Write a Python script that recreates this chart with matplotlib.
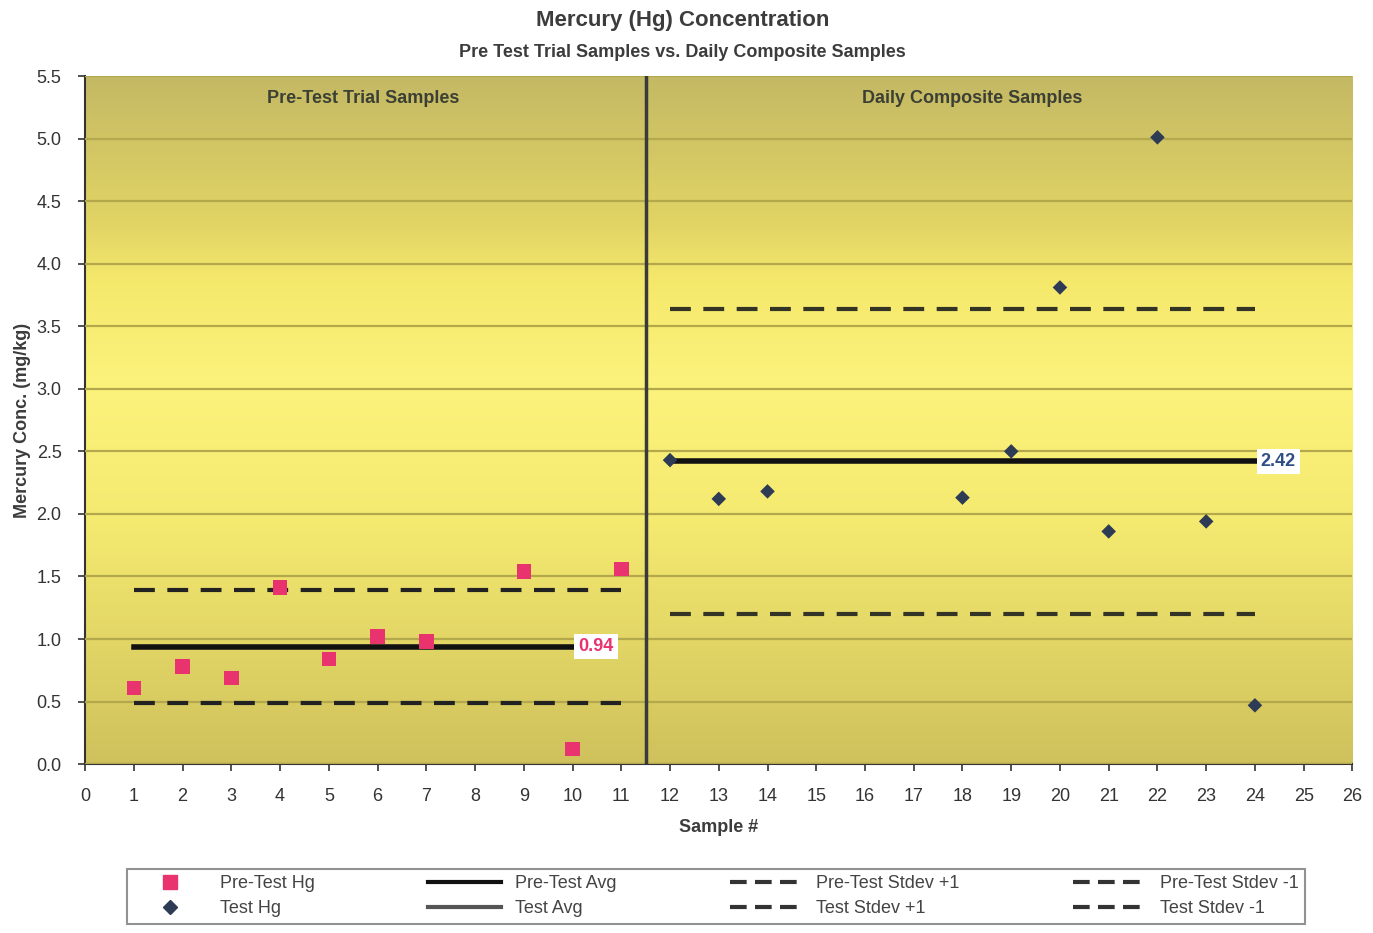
import numpy as np
import matplotlib.pyplot as plt
from matplotlib.colors import LinearSegmentedColormap
from matplotlib.lines import Line2D

plt.rcParams['font.family'] = ['Liberation Sans', 'DejaVu Sans']

# pre-test trial samples
pre_x = [1, 2, 3, 4, 5, 6, 7, 9, 10, 11]
pre_hg = [0.61, 0.78, 0.69, 1.41, 0.84, 1.02, 0.98, 1.54, 0.12, 1.56]
pre_avg = 0.94
pre_sd = 0.45

# daily composite samples
test_x = [12, 13, 14, 18, 19, 20, 21, 22, 23, 24]
test_hg = [2.43, 2.12, 2.18, 2.13, 2.50, 3.81, 1.86, 5.01, 1.94, 0.47]
test_avg = 2.42
test_sd = 1.22

fig = plt.figure(figsize=(13.73, 9.33), dpi=100)
ax = fig.add_axes([0.062, 0.181, 0.923, 0.7375])
ax.set_xlim(0, 26)
ax.set_ylim(0, 5.5)

# olive -> yellow -> olive background
bg = LinearSegmentedColormap.from_list(
    'bg', [(0.0, '#cfc15c'), (0.35, '#f5ea70'), (0.55, '#fcf37c'),
           (0.70, '#f5e96c'), (0.78, '#e2d565'), (1.0, '#c4b964')])
grad = np.linspace(0, 1, 256).reshape(-1, 1)
ax.imshow(grad, cmap=bg, origin='lower', extent=(0, 26, 0, 5.5),
          aspect='auto', zorder=0)

ax.set_yticks(np.arange(0, 5.51, 0.5))
ax.set_yticklabels([f'{v:.1f}' for v in np.arange(0, 5.51, 0.5)])
ax.set_xticks(range(0, 27))
ax.yaxis.grid(True, color='#b3a84c', linewidth=1.6, zorder=1)
ax.set_axisbelow(False)
for s in ['top', 'right']:
    ax.spines[s].set_visible(False)
for s in ['left', 'bottom']:
    ax.spines[s].set_color('#333333')
    ax.spines[s].set_linewidth(1.5)
ax.tick_params(direction='out', length=5, width=1.2, colors='#333333',
               labelsize=13, pad=12)

# split between the two sample sets
ax.axvline(11.5, color='#3a3a3a', linewidth=2.5, zorder=3)

# stdev bands and averages
ax.plot([1, 11], [pre_avg + pre_sd] * 2, color='#222222', lw=3,
        dashes=(5, 3), zorder=4)
ax.plot([1, 11], [pre_avg - pre_sd] * 2, color='#222222', lw=3,
        dashes=(5, 3), zorder=4)
ax.plot([12, 24], [test_avg + test_sd] * 2, color='#333326', lw=3,
        dashes=(5, 3), zorder=4)
ax.plot([12, 24], [test_avg - test_sd] * 2, color='#333326', lw=3,
        dashes=(5, 3), zorder=4)
ax.plot([1, 10], [pre_avg] * 2, color='#111111', lw=4, zorder=4)
ax.plot([12, 24], [test_avg] * 2, color='#111111', lw=4, zorder=4)

ax.scatter(pre_x, pre_hg, marker='s', s=110, color='#e8336f',
           edgecolors='none', zorder=5)
ax.scatter(test_x, test_hg, marker='D', s=55, color='#2e3b55',
           edgecolors='none', zorder=5)

ax.text(10.12, pre_avg, f'{pre_avg:.2f}', color='#e8336f', fontsize=13,
        fontweight='bold', va='center', ha='left', zorder=6,
        bbox=dict(facecolor='white', edgecolor='none', pad=3))
ax.text(24.12, test_avg, f'{test_avg:.2f}', color='#2d4f86', fontsize=13,
        fontweight='bold', va='center', ha='left', zorder=6,
        bbox=dict(facecolor='white', edgecolor='none', pad=3))

ax.text(5.7, 5.32, 'Pre-Test Trial Samples', ha='center', va='center',
        fontsize=13, fontweight='bold', color='#3c4034', zorder=6)
ax.text(18.2, 5.32, 'Daily Composite Samples', ha='center', va='center',
        fontsize=13, fontweight='bold', color='#3c4034', zorder=6)

ax.set_xlabel('Sample #', fontsize=13, fontweight='bold', color='#3c3c3c',
              labelpad=10)
ax.set_ylabel('Mercury Conc. (mg/kg)', fontsize=13, fontweight='bold',
              color='#3c3c3c', labelpad=4)

fig.text(0.497, 0.978, 'Mercury (Hg) Concentration', ha='center',
         va='center', fontsize=16, fontweight='bold', color='#3c3c3c')
fig.text(0.497, 0.944, 'Pre Test Trial Samples vs. Daily Composite Samples',
         ha='center', va='center', fontsize=13, fontweight='bold',
         color='#3c3c3c')

handles = [
    Line2D([], [], ls='none', marker='s', ms=10, color='#e8336f'),
    Line2D([], [], ls='none', marker='D', ms=7, color='#2e3b55'),
    Line2D([], [], color='#111111', lw=3),
    Line2D([], [], color='#555555', lw=3),
    Line2D([], [], color='#333333', lw=3, dashes=(4, 2)),
    Line2D([], [], color='#333333', lw=3, dashes=(4, 2)),
    Line2D([], [], color='#333333', lw=3, dashes=(4, 2)),
    Line2D([], [], color='#333333', lw=3, dashes=(4, 2)),
]
labels = ['Pre-Test Hg', 'Test Hg', 'Pre-Test Avg', 'Test Avg',
          'Pre-Test Stdev +1', 'Test Stdev +1',
          'Pre-Test Stdev -1', 'Test Stdev -1']
leg = fig.legend(handles, labels, ncol=4, loc='lower left',
                 bbox_to_anchor=(0.086, 0.0005, 0.871, 0.064), mode='expand',
                 fontsize=13, frameon=True, fancybox=False, borderpad=0.35,
                 labelspacing=0.45, handlelength=4, columnspacing=1.0)
leg.get_frame().set_edgecolor('#777777')
leg.get_frame().set_linewidth(1.5)
for t in leg.get_texts():
    t.set_color('#444444')

fig.savefig('out.png', dpi=100)
